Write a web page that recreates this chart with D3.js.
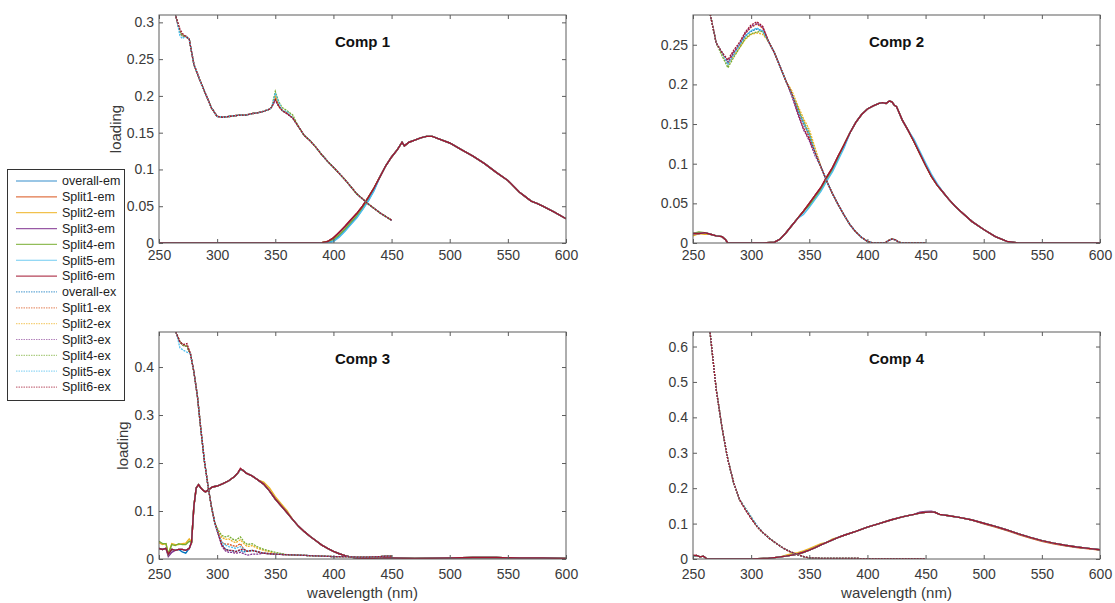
<!DOCTYPE html>
<html>
<head>
<meta charset="utf-8">
<script src="https://cdn.jsdelivr.net/npm/d3@7"></script>
<style>
  body { margin: 0; background: #fff; }
  text { font-family: "Liberation Sans", Arial, sans-serif; }
</style>
</head>
<body>
<div id="chart"></div>
<script>
// ---- data ----
const seriesNames = ["overall", "Split1", "Split2", "Split3", "Split4", "Split5", "Split6"];
const seriesColors = ["#0072BD", "#D95319", "#EDB120", "#7E2F8E", "#77AC30", "#4DBEEE", "#A2142F"];
const wlTicks = [250, 300, 350, 400, 450, 500, 550, 600];

// Comp 1
const exWl1 = [250,255,260,265,268,270,273,276,280,285,290,295,300,305,310,315,320,325,330,335,340,345,347,350,353,356,360,365,370,375,380,385,390,395,400,410,420,430,440,450];
const ex1 = [0.42,0.38,0.34,0.305,0.287,0.282,0.281,0.277,0.243,0.222,0.203,0.184,0.172,0.171,0.172,0.173,0.174,0.174,0.176,0.177,0.179,0.182,0.185,0.196,0.186,0.18,0.176,0.17,0.158,0.146,0.139,0.13,0.12,0.111,0.103,0.086,0.067,0.053,0.041,0.031];
const exDev1 = [
  {},
  {350: 0.003},
  {350: 0.004, 360: 0.002},
  {350: -0.002},
  {350: 0.01, 353: 0.006, 356: 0.004, 360: 0.004, 365: 0.004},
  {268: -0.005, 270: -0.004, 350: 0.008, 353: 0.005, 360: 0.003},
  {268: 0.004, 270: 0.003, 350: -0.001}
];
const emWl1 = [250,300,350,385,390,395,400,405,410,415,420,425,430,435,440,445,450,455,459,461,465,470,475,480,485,490,500,510,520,530,540,550,560,565,570,575,580,590,600];
const em1 = [0,0,0,0,0.0005,0.002,0.007,0.014,0.022,0.031,0.04,0.05,0.062,0.075,0.09,0.105,0.117,0.127,0.137,0.132,0.137,0.14,0.143,0.145,0.145,0.142,0.136,0.127,0.118,0.108,0.096,0.085,0.069,0.063,0.057,0.054,0.05,0.042,0.033];
const emDev1 = [
  {395: -0.002, 400: -0.004, 405: -0.005, 410: -0.005, 415: -0.005, 420: -0.005, 425: -0.004, 430: -0.004, 435: -0.003},
  {},
  {},
  {},
  {400: -0.002, 405: -0.003, 410: -0.003, 415: -0.003, 420: -0.003, 425: -0.003},
  {395: -0.002, 400: -0.005, 405: -0.006, 410: -0.006, 415: -0.006, 420: -0.006, 425: -0.005, 430: -0.005, 435: -0.004},
  {405: 0.001, 410: 0.001, 415: 0.001}
];

// Comp 2
const exWl2 = [250,255,260,265,270,275,280,285,290,295,300,305,310,315,320,325,330,335,340,345,350,355,360,365,370,375,380,385,390,395,400,405,410,415,418,421,424,427,430,440,450];
const ex2 = [0.40,0.36,0.32,0.287,0.252,0.24,0.228,0.24,0.25,0.261,0.268,0.271,0.267,0.254,0.24,0.222,0.204,0.188,0.168,0.149,0.134,0.114,0.096,0.078,0.062,0.048,0.035,0.023,0.014,0.007,0.002,0,0,0,0.003,0.005,0.004,0.001,0,0,0];
const exDev2 = [
  {300: -0.001, 305: -0.001, 345: 0.002, 350: 0.002},
  {295: 0.003, 300: 0.004, 305: 0.005, 310: 0.004, 340: 0.003, 345: 0.004},
  {280: -0.004, 285: -0.004, 290: -0.004, 295: -0.004, 300: -0.005, 305: -0.006, 310: -0.004, 335: 0.004, 340: 0.006, 345: 0.008, 350: 0.009, 355: 0.006},
  {295: 0.004, 300: 0.005, 305: 0.006, 310: 0.005, 335: -0.003, 340: -0.005, 345: -0.006, 350: -0.005, 355: -0.004},
  {275: -0.004, 280: -0.007, 285: -0.006, 290: -0.004, 295: -0.003, 300: -0.004, 305: -0.005, 340: 0.003, 345: 0.004, 350: 0.005},
  {280: -0.003, 285: -0.003, 345: 0.003, 350: 0.003},
  {280: 0.003, 285: 0.003, 290: 0.003, 295: 0.005, 300: 0.007, 305: 0.008, 310: 0.006, 340: -0.003, 345: -0.004, 350: -0.003}
];
const emWl2 = [250,255,260,265,270,275,278,280,290,300,310,320,325,330,335,340,345,350,355,360,365,370,375,380,385,390,395,400,405,410,413,416,419,421,423,425,430,435,440,445,450,455,460,465,470,475,480,490,500,510,520,525,530,600];
const em2 = [0.012,0.012,0.013,0.011,0.009,0.008,0.004,0,0,0,0,0.001,0.005,0.013,0.022,0.031,0.04,0.05,0.06,0.07,0.083,0.095,0.11,0.124,0.139,0.152,0.162,0.169,0.173,0.176,0.177,0.176,0.179,0.178,0.174,0.172,0.155,0.142,0.128,0.113,0.098,0.084,0.073,0.064,0.055,0.047,0.04,0.027,0.017,0.008,0.002,0.001,0,0];
const emDev2 = [
  {350: -0.002, 360: -0.002, 370: -0.002, 380: -0.002},
  {},
  {250: -0.003, 260: -0.002},
  {},
  {255: 0.002, 350: -0.003, 355: -0.003, 360: -0.003, 365: -0.003, 370: -0.003, 375: -0.003},
  {345: -0.004, 350: -0.005, 355: -0.005, 360: -0.005, 365: -0.005, 370: -0.005, 375: -0.005, 380: -0.004, 440: 0.003, 445: 0.003, 450: 0.003, 455: 0.003, 460: 0.002},
  {}
];

// Comp 3
const exWl3 = [250,255,260,265,268,271,274,277,280,283,286,289,292,295,298,301,304,307,310,313,316,320,323,326,330,335,340,345,350,360,370,380,390,400,410,420,430,440,445,450];
const ex3 = [0.6,0.55,0.51,0.47,0.452,0.445,0.443,0.428,0.39,0.34,0.27,0.205,0.155,0.11,0.075,0.052,0.035,0.027,0.026,0.024,0.022,0.026,0.02,0.016,0.018,0.015,0.012,0.011,0.01,0.009,0.008,0.007,0.006,0.005,0.005,0.004,0.004,0.005,0.006,0.006];
const exDev3 = [
  {304: -0.004, 307: -0.006, 310: -0.008, 313: -0.007, 316: -0.006, 320: -0.008, 323: -0.005},
  {307: 0.004, 310: 0.005, 313: 0.004, 316: 0.004, 320: 0.006},
  {301: 0.005, 304: 0.01, 307: 0.014, 310: 0.016, 313: 0.013, 316: 0.012, 320: 0.014, 323: 0.012, 326: 0.01, 330: 0.01, 335: 0.007, 340: 0.006, 345: 0.004},
  {304: -0.008, 307: -0.01, 310: -0.012, 313: -0.01, 316: -0.01, 320: -0.012, 323: -0.009, 326: -0.008, 330: -0.008, 335: -0.005},
  {301: 0.008, 304: 0.014, 307: 0.019, 310: 0.022, 313: 0.018, 316: 0.017, 320: 0.02, 323: 0.016, 326: 0.014, 330: 0.014, 335: 0.01, 340: 0.008, 345: 0.006, 350: 0.004},
  {268: -0.012, 271: -0.01, 274: -0.012, 307: 0.002},
  {271: 0.002, 274: 0.006, 304: -0.006, 307: -0.007, 310: -0.008, 313: -0.006, 316: -0.007, 320: -0.006}
];
const emWl3 = [250,253,256,258,261,264,267,270,273,276,278,280,282,284,286,288,290,293,296,300,305,310,315,318,320,322,325,330,335,340,345,350,355,360,365,370,375,380,385,390,395,400,405,410,415,420,430,440,450,470,500,520,540,560,580,600];
const em3 = [0.022,0.02,0.022,0.01,0.02,0.018,0.02,0.02,0.018,0.022,0.035,0.11,0.148,0.155,0.148,0.143,0.14,0.145,0.15,0.152,0.157,0.163,0.172,0.18,0.187,0.185,0.179,0.173,0.165,0.156,0.142,0.125,0.111,0.097,0.082,0.068,0.057,0.047,0.038,0.029,0.022,0.016,0.011,0.007,0.004,0.002,0.001,0.002,0.002,0.001,0.002,0.003,0.003,0.002,0.002,0.001];
const emDev3 = [
  {270: -0.005, 273: -0.006},
  {},
  {250: 0.012, 253: 0.01, 256: 0.01, 261: 0.012, 264: 0.012, 267: 0.01, 270: 0.012, 273: 0.015, 276: 0.02, 340: 0.004, 345: 0.006, 350: 0.005, 355: 0.004, 360: 0.004},
  {258: -0.005, 261: -0.006},
  {250: 0.015, 253: 0.012, 256: 0.01, 261: 0.01, 264: 0.01, 267: 0.012, 270: 0.01, 273: 0.012, 276: 0.015},
  {},
  {320: 0.002}
];

// Comp 4
const exWl4 = [250,255,260,263,266,270,275,280,285,290,295,300,305,310,315,320,325,330,335,340,345,350,360,380,400,420,450];
const ex4 = [0.95,0.85,0.76,0.69,0.6,0.478,0.37,0.28,0.215,0.168,0.14,0.115,0.092,0.075,0.06,0.048,0.036,0.026,0.019,0.012,0.007,0.003,0.002,0.002,0.001,0.001,0.001];
const exDev4 = [
  {},
  {},
  {},
  {},
  {295: 0.004, 300: 0.004},
  {295: 0.004, 300: 0.004, 305: 0.003},
  {}
];
const emWl4 = [250,253,256,259,262,270,300,315,320,325,330,335,340,345,350,355,360,365,370,375,380,390,400,410,420,430,440,445,450,455,458,462,470,480,490,500,510,520,530,540,550,560,570,580,590,600];
const em4 = [0.008,0.01,0.006,0.008,0,0,0,0.002,0.004,0.006,0.008,0.011,0.014,0.019,0.025,0.032,0.04,0.047,0.054,0.061,0.067,0.078,0.09,0.1,0.11,0.119,0.126,0.13,0.132,0.133,0.132,0.126,0.122,0.117,0.11,0.101,0.092,0.082,0.071,0.061,0.052,0.045,0.039,0.034,0.03,0.026];
const emDev4 = [
  {},
  {500: -0.002, 510: -0.002, 520: -0.002, 530: -0.002, 540: -0.002, 550: -0.002, 560: -0.002, 570: -0.002, 580: -0.002, 590: -0.001, 600: -0.001},
  {330: 0.003, 335: 0.004, 340: 0.004, 345: 0.004, 350: 0.004, 355: 0.004, 360: 0.003, 370: 0.003},
  {445: 0.002, 450: 0.002, 455: 0.002},
  {},
  {},
  {250: 0.003}
];

const yTicks1 = [0, 0.05, 0.1, 0.15, 0.2, 0.25, 0.3];
const yTicks2 = [0, 0.05, 0.1, 0.15, 0.2, 0.25];
const yTicks3 = [0, 0.1, 0.2, 0.3, 0.4];
const yTicks4 = [0, 0.1, 0.2, 0.3, 0.4, 0.5, 0.6];

// ---- layout ----
const panels = [
  {title: "Comp 1", left: 159, top: 15, w: 407, h: 228, ymax: 0.31, yticks: yTicks1,
   exWl: exWl1, ex: ex1, exDev: exDev1, emWl: emWl1, em: em1, emDev: emDev1, ylabelX: 121, xlabel: false, pad: 7},
  {title: "Comp 2", left: 693, top: 15, w: 407, h: 228, ymax: 0.2875, yticks: yTicks2,
   exWl: exWl2, ex: ex2, exDev: exDev2, emWl: emWl2, em: em2, emDev: emDev2, ylabelX: null, xlabel: false, pad: 7},
  {title: "Comp 3", left: 159, top: 332, w: 407, h: 227, ymax: 0.473, yticks: yTicks3,
   exWl: exWl3, ex: ex3, exDev: exDev3, emWl: emWl3, em: em3, emDev: emDev3, ylabelX: 128, xlabel: true, pad: 10},
  {title: "Comp 4", left: 693, top: 332, w: 407, h: 227, ymax: 0.641, yticks: yTicks4,
   exWl: exWl4, ex: ex4, exDev: exDev4, emWl: emWl4, em: em4, emDev: emDev4, ylabelX: null, xlabel: true, pad: 10}
];

const svg = d3.select("#chart").append("svg")
  .attr("width", 1115)
  .attr("height", 603);

const axisColor = "#5c5c5c";
const labelColor = "#3a3a3a";

panels.forEach(function(p, pi) {
  const g = svg.append("g").attr("transform", `translate(${p.left}, ${p.top})`);

  const x = d3.scaleLinear().domain([250, 600]).range([0, p.w]);
  const y = d3.scaleLinear().domain([0, p.ymax]).range([p.h, 0]);

  g.append("clipPath").attr("id", "clip" + pi)
    .append("rect").attr("width", p.w).attr("height", p.h);

  const line = d3.line()
    .x(d => x(d[0]))
    .y(d => y(d[1]));

  const plot = g.append("g").attr("clip-path", `url(#clip${pi})`);

  // emission lines first (solid), then excitation (dotted), as in the legend
  seriesNames.forEach(function(name, si) {
    const pts = p.emWl.map((w, i) => [w, p.em[i] + (p.emDev[si][w] || 0)]);
    plot.append("path")
      .datum(pts)
      .attr("fill", "none")
      .attr("stroke", seriesColors[si])
      .attr("stroke-width", 1.4)
      .attr("d", line);
  });
  seriesNames.forEach(function(name, si) {
    const pts = p.exWl.map((w, i) => [w, p.ex[i] + (p.exDev[si][w] || 0)]);
    plot.append("path")
      .datum(pts)
      .attr("fill", "none")
      .attr("stroke", seriesColors[si])
      .attr("stroke-width", 1.3)
      .attr("stroke-dasharray", "2,1")
      .attr("d", line);
  });

  // axes, ticks pointing inward
  const fmt = d3.format("~g");
  const xb = g.append("g")
    .attr("transform", `translate(0, ${p.h})`)
    .call(d3.axisBottom(x).tickValues(wlTicks).tickSize(-4).tickSizeOuter(0).tickPadding(p.pad));
  const xt = g.append("g")
    .call(d3.axisTop(x).tickValues(wlTicks).tickSize(-4).tickSizeOuter(0).tickFormat(""));
  const yl = g.append("g")
    .call(d3.axisLeft(y).tickValues(p.yticks).tickSize(-4).tickSizeOuter(0).tickPadding(5).tickFormat(fmt));
  const yr = g.append("g")
    .attr("transform", `translate(${p.w}, 0)`)
    .call(d3.axisRight(y).tickValues(p.yticks).tickSize(-4).tickSizeOuter(0).tickFormat(""));

  [xb, xt, yl, yr].forEach(function(a) {
    a.select(".domain").remove();
    a.selectAll(".tick line").attr("stroke", axisColor);
    a.selectAll(".tick text")
      .attr("fill", labelColor)
      .style("font-size", "14px")
      .style("font-family", "'Liberation Sans', Arial, sans-serif");
  });

  g.append("rect")
    .attr("width", p.w)
    .attr("height", p.h)
    .attr("fill", "none")
    .attr("stroke", axisColor)
    .attr("stroke-width", 1);

  g.append("text")
    .attr("x", p.w / 2)
    .attr("y", 32)
    .attr("text-anchor", "middle")
    .style("font-size", "15px")
    .style("font-weight", "bold")
    .style("fill", "#111")
    .text(p.title);

  if (p.ylabelX !== null) {
    svg.append("text")
      .attr("transform", `translate(${p.ylabelX}, ${p.top + p.h / 2}) rotate(-90)`)
      .attr("text-anchor", "middle")
      .style("font-size", "15px")
      .style("fill", labelColor)
      .text("loading");
  }
  if (p.xlabel) {
    svg.append("text")
      .attr("x", p.left + p.w / 2)
      .attr("y", 598)
      .attr("text-anchor", "middle")
      .style("font-size", "15px")
      .style("fill", labelColor)
      .text("wavelength (nm)");
  }
});

// ---- legend ----
const legendLabels = seriesNames.map(n => n + "-em").concat(seriesNames.map(n => n + "-ex"));
const legendG = svg.append("g");
legendG.append("rect")
  .attr("x", 7.5).attr("y", 169.5)
  .attr("width", 117).attr("height", 231)
  .attr("fill", "#fff")
  .attr("stroke", "#333")
  .attr("stroke-width", 1);

const legend = legendG.selectAll(".legend")
  .data(legendLabels)
  .enter().append("g")
  .attr("class", "legend")
  .attr("transform", (d, i) => "translate(0," + (181 + i * 15.85) + ")");

legend.append("line")
  .attr("x1", 16).attr("x2", 57)
  .attr("y1", 0).attr("y2", 0)
  .attr("stroke", (d, i) => seriesColors[i % 7])
  .attr("stroke-width", 1.2)
  .attr("stroke-opacity", (d, i) => i < 7 ? 0.8 : 0.6)
  .attr("stroke-dasharray", (d, i) => i < 7 ? null : "1.5,1");

legend.append("text")
  .attr("x", 62)
  .attr("y", 0)
  .attr("dy", ".35em")
  .style("font-size", "12.5px")
  .style("fill", "#222")
  .text(d => d);
</script>
</body>
</html>
